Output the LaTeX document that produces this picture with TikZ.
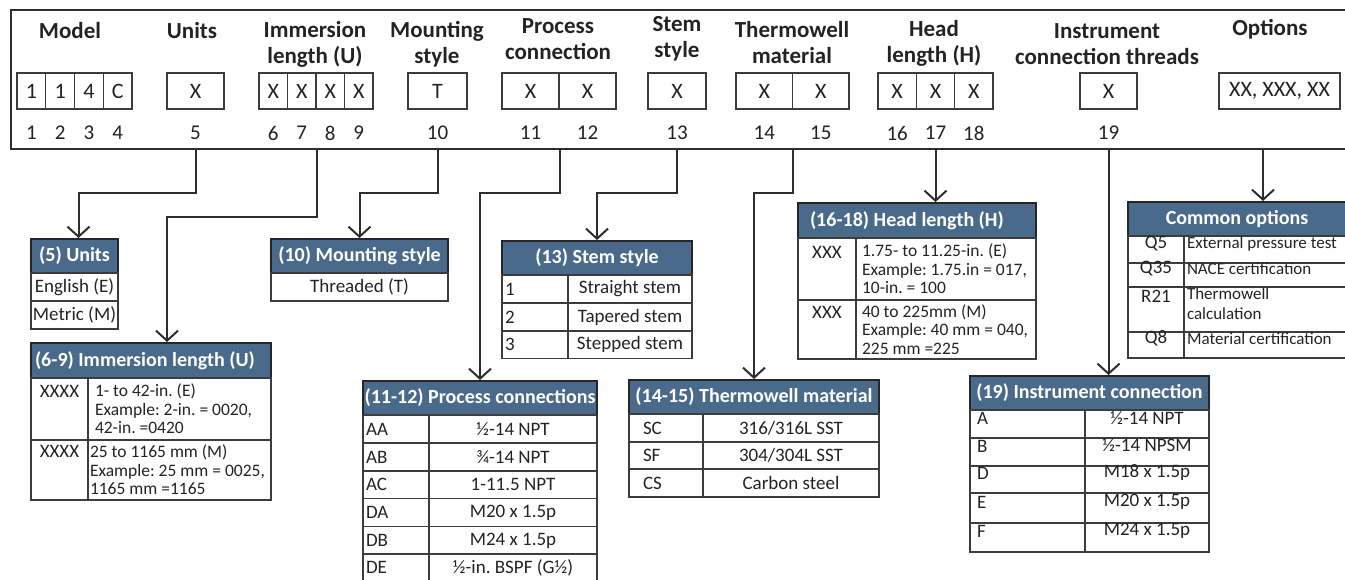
\documentclass[tikz,border=0pt]{standalone}
\usepackage{fontspec}
\setmainfont{Carlito}
\usetikzlibrary{arrows.meta,positioning}
\definecolor{hdrblue}{RGB}{74,106,139}
\definecolor{inkline}{RGB}{45,45,45}
\definecolor{cellline}{RGB}{60,60,60}
\definecolor{inktext}{RGB}{35,35,35}

\begin{document}
\frenchspacing
\begin{tikzpicture}[x=1pt, y=-1pt,
  title/.style={font=\bfseries\fontsize{23}{26}\selectfont, align=center, text=inktext, inner sep=0pt},
  digbox/.style={draw=cellline, line width=1.2pt, minimum width=#1, minimum height=36pt, inner sep=0pt, font=\fontsize{22}{22}\selectfont, text=inktext},
  digit/.style={font=\fontsize{21}{21}\selectfont, text=inktext, inner sep=0pt},
  thead/.style={fill=hdrblue, draw=black!85, line width=2pt, text=white, font=\bfseries\fontsize{20}{20}\selectfont, inner sep=0pt, minimum height=#1},
  tcell/.style={draw=cellline, line width=1.1pt, inner sep=0pt, minimum height=#1, font=\fontsize{19}{19}\selectfont, text=inktext},
  multi/.style={font=\fontsize{17.5}{18.5}\selectfont},
  codetxt/.style={font=\fontsize{19}{19}\selectfont, text=inktext, inner sep=0pt},
  conn/.style={draw=inkline, line width=2pt, -{Straight Barb[length=10pt,width=22pt]}},
]
\useasboundingbox (0,0) rectangle (1345,579);

% frame round the code line
\coordinate (fTL) at (11,10);
\coordinate (fb) at (11,149);
\coordinate (dig) at (0,133);
\draw[line width=2.5pt, inkline] (1346,10) -- (fTL) -- (fb) -- (1346,149);

% column titles
\node[title] (tModel) at (70,31) {Model};
\node[title] (tUnits) at (192,31) {Units};
\node[title] (tImm) at (315,44) {Immersion\\length (U)};
\node[title] (tMount) at (437,44) {Mounting\\style};
\node[title] (tProc) at (558,39.5) {Process\\connection};
\node[title] (tStem) at (677,39) {Stem\\style};
\node[title] (tMat) at (792,43) {Thermowell\\material};
\node[title] (tHead) at (934,43) {Head\\length (H)};
\node[title] (tInst) at (1107,44) {Instrument\\connection threads};
\node[title] (tOpt) at (1270,29.5) {Options};

% code boxes and position numbers
\foreach \ch [count=\i] in {1,1,4,C}
  \node[digbox=28.75pt] (m\i) at (28.75*\i+2.625,91) {\ch};
\node[digbox=57pt] (u5) at (195.5,91) {X};
\foreach \i in {6,...,9}
  \node[digbox=28.5pt] (i\i) at (28.5*\i+102.25,91) {X};
\node[digbox=59pt] (mt10) at (437.5,91) {T};
\node[digbox=57pt] (p11) at (530.5,91) {X};
\node[digbox=57pt] (p12) at (587.5,91) {X};
\node[digbox=58pt] (s13) at (677,91) {X};
\node[digbox=56.5pt] (t14) at (764.25,91) {X};
\node[digbox=56.5pt] (t15) at (820.75,91) {X};
\foreach \i in {16,17,18}
  \node[digbox=38.33pt] (h\i) at (38.33*\i+283.9,91) {X};
\node[digbox=57pt] (ic19) at (1108.5,91) {X};
\node[digbox=121pt] (opt) at (1279.5,91) {XX, XXX, XX};

\foreach \i in {1,...,4} \node[digit] (n\i) at (m\i |- dig) {\i};
\node[digit] (n5) at (u5 |- dig) {5};
\foreach \i in {6,...,9} \node[digit] (n\i) at (i\i |- dig) {\i};
\node[digit] (n10) at (mt10 |- dig) {10};
\node[digit] (n11) at (p11 |- dig) {11};
\node[digit] (n12) at (p12 |- dig) {12};
\node[digit] (n13) at (s13 |- dig) {13};
\node[digit] (n14) at (t14 |- dig) {14};
\node[digit] (n15) at (t15 |- dig) {15};
\foreach \i in {16,17,18} \node[digit] (n\i) at (h\i |- dig) {\i};
\node[digit] (n19) at (ic19 |- dig) {19};

% (5) units
\node[thead=34pt, minimum width=87pt] (un-h) at (74.5,256) {(5) Units};
\node[tcell=28pt, minimum width=87pt] (un-1) at (74.5,287) {English (E)};
\node[tcell=28pt, minimum width=87pt] (un-2) at (74.5,315) {Metric (M)};

% (10) mounting style
\node[thead=34pt, minimum width=177pt] (ms-h) at (359.5,256) {(10) Mounting style};
\node[tcell=28pt, minimum width=177pt] (ms-1) at (359.5,287) {Threaded (T)};

% (6-9) immersion length
\node[thead=35pt, minimum width=240pt, text width=232pt, align=flush left] (il-h) at (151,360.5) {(6-9) Immersion length (U)};
\node[tcell=62pt, minimum width=57pt] (il-c1) at (59.5,409) {};
\node[tcell=62pt, multi, minimum width=183pt, text width=169pt, align=flush left] (il-t1) at (179.5,409)
  {1- to 42-in. (E)\\Example: 2-in. = 0020,\\42-in. =0420};
\node[tcell=60pt, minimum width=57pt] (il-c2) at (59.5,470) {};
\node[tcell=60pt, multi, minimum width=183pt, text width=179pt, align=flush left] (il-t2) at (179.5,470)
  {25 to 1165 mm (M)\\Example: 25 mm = 0025,\\1165 mm =1165};
\node[codetxt, below=8pt of il-c1.north] (il-x1) {XXXX};
\node[codetxt, below=6pt of il-c2.north] (il-x2) {XXXX};

% (13) stem style
\node[thead=34pt, minimum width=190pt] (ss-h) at (597,258) {(13) Stem style};
\foreach \code/\txt/\yc [count=\i] in {1/Straight stem/289, 2/Tapered stem/317, 3/Stepped stem/344.5}{
  \node[tcell=28pt, minimum width=66pt, text width=60pt, align=flush left] (ss-c\i) at (535,\yc) {\code};
  \node[tcell=28pt, minimum width=124pt] (ss-t\i) at (630,\yc) {\txt};
}

% (11-12) process connections
\node[thead=34pt, minimum width=234pt] (pc-h) at (480,398) {(11-12) Process connections};
\foreach \code/\txt/\yc [count=\i] in {AA/{½-14 NPT}/429, AB/{¾-14 NPT}/457, AC/{1-11.5 NPT}/484.5,
    DA/{M20 x 1.5p}/512.5, DB/{M24 x 1.5p}/540.5, DE/{½-in. BSPF (G½)}/567.5}{
  \node[tcell=28pt, minimum width=66pt, text width=60pt, align=flush left] (pc-c\i) at (396,\yc) {\code};
  \node[tcell=28pt, minimum width=168pt] (pc-t\i) at (513,\yc) {\txt};
}

% (14-15) thermowell material
\node[thead=34pt, minimum width=250pt] (tm-h) at (754,397) {(14-15) Thermowell material};
\foreach \code/\txt/\yc [count=\i] in {SC/{316/316L SST}/428, SF/{304/304L SST}/455.5, CS/{Carbon steel}/483}{
  \node[tcell=28pt, minimum width=74pt, text width=46pt, align=flush left] (tm-c\i) at (666,\yc) {\code};
  \node[tcell=28pt, minimum width=176pt] (tm-t\i) at (791,\yc) {\txt};
}

% (16-18) head length
\node[thead=35pt, minimum width=238pt, text width=214pt, align=flush left] (hl-h) at (917,220.5) {(16-18) Head length (H)};
\node[tcell=62pt, minimum width=58pt] (hl-c1) at (827,269) {};
\node[tcell=62pt, multi, minimum width=180pt, text width=168pt, align=flush left] (hl-t1) at (946,269)
  {1.75- to 11.25-in. (E)\\Example: 1.75.in = 017,\\10-in. = 100};
\node[tcell=59pt, minimum width=58pt] (hl-c2) at (827,329.5) {};
\node[tcell=59pt, multi, minimum width=180pt, text width=168pt, align=flush left] (hl-t2) at (946,329.5)
  {40 to 225mm (M)\\Example: 40 mm = 040,\\225 mm =225};
\node[codetxt, below=9pt of hl-c1.north] (hl-x1) {XXX};
\node[codetxt, below=7pt of hl-c2.north] (hl-x2) {XXX};

% common options
\node[thead=34pt, minimum width=218pt] (co-h) at (1237,219) {Common options};
\foreach \code/\txt/\yc/\ht [count=\i] in {Q5/{External pressure test}/249.5/27, Q35/{NACE certification}/275/24,
    {}/{Thermowell\\calculation}/309.5/45, Q8/{Material certification}/345/26}{
  \node[tcell=\ht pt, minimum width=56pt] (co-c\i) at (1156,\yc) {\code};
  \node[tcell=\ht pt, minimum width=162pt, text width=156pt, align=flush left, font=\fontsize{17}{20}\selectfont] (co-t\i) at (1265,\yc) {\txt};
}
\node[codetxt, below=4pt of co-c3.north] (co-x3) {R21};

% (19) instrument connection
\node[thead=34pt, minimum width=239pt] (in-h) at (1089.5,393) {(19) Instrument connection};
\foreach \code/\txt/\yc/\ht [count=\i] in {A/{½-14 NPT}/424/28, B/{½-14 NPSM}/452/28, D/{M18 x 1.5p}/479.5/27,
    E/{M20 x 1.5p}/508/30, F/{M24 x 1.5p}/537.5/29}{
  \node[tcell=\ht pt, minimum width=115pt, text width=101pt, align=flush left] (in-c\i) at (1027.5,\yc) {\code};
  \node[tcell=\ht pt, minimum width=124pt] (in-t\i) at (1147,\yc) {\txt};
}

% connectors
\draw[conn] (u5 |- fb) -- ++(0,44) -| ([xshift=4pt]un-h.north);
\draw[conn] (i7.south east |- fb) -- ++(0,68) -| ([xshift=16pt]il-h.north);
\draw[conn] (mt10 |- fb) -- ++(0,44) -| (ms-h.north);
\draw[conn] (p11.south east |- fb) -- ++(0,44) -| (pc-h.north);
\draw[conn] (s13 |- fb) -- ++(0,44) -| (ss-h.north);
\draw[conn] (t14.south east |- fb) -- ++(0,44) -| (tm-h.north);
\draw[conn] (h17 |- fb) -- (h17 |- hl-h.north);
\draw[conn] (ic19 |- fb) -- (ic19 |- in-h.north);
\draw[conn] ([xshift=26pt]co-h.north |- fb) -- ([xshift=26pt]co-h.north);
\end{tikzpicture}
\end{document}
